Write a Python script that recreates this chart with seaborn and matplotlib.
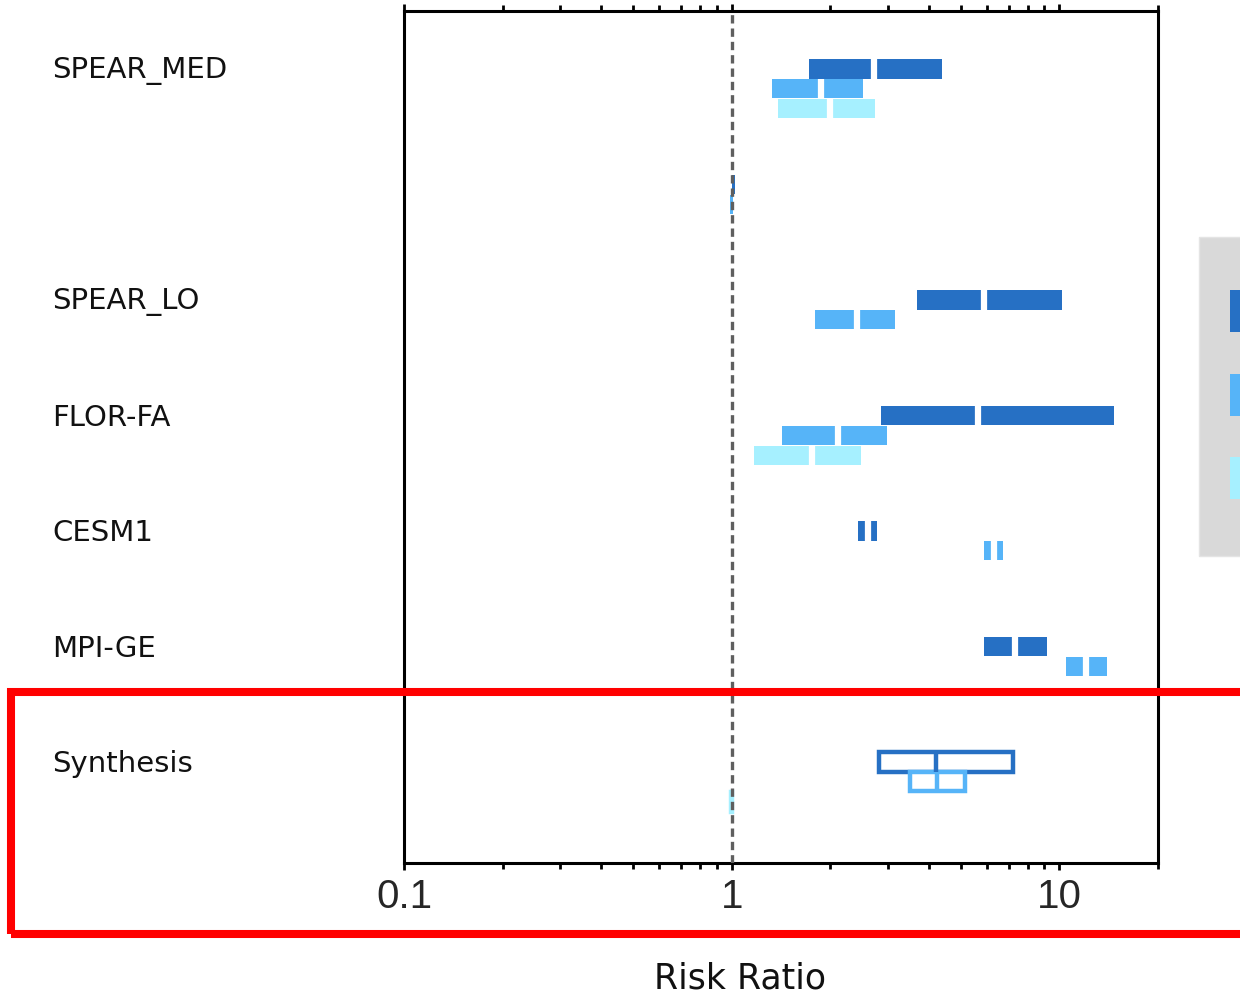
import numpy as np
import matplotlib
matplotlib.use("Agg")
import matplotlib.pyplot as plt
import matplotlib.transforms as mtransforms
from matplotlib.patches import Rectangle, Patch
import seaborn as sns

# ---------------- data ----------------
rows = ["SPEAR_MED", "", "SPEAR_LO", "FLOR-FA", "CESM1", "MPI-GE", "Synthesis"]
nan = np.nan

dark_lo = [1.72, 1.003, 3.68, 2.86, 2.43, 5.90, 2.82]
dark_mid = [2.72, nan, 5.90, 5.65, 2.61, 7.34, 4.21]
dark_hi = [4.39, 1.025, 10.2, 14.7, 2.78, 9.19, 7.23]

med_lo = [1.33, 0.985, 1.79, 1.42, 5.90, 10.5, 3.50]
med_mid = [1.87, nan, 2.41, 2.11, 6.33, 12.1, 4.24]
med_hi = [2.52, 1.007, 3.15, 2.98, 6.74, 14.0, 5.16]

light_lo = [1.38, nan, nan, 1.17, nan, nan, 0.996]
light_mid = [1.99, nan, nan, 1.76, nan, nan, nan]
light_hi = [2.74, nan, nan, 2.48, nan, nan, 1.004]

outlined = [False, False, False, False, False, False, True]

xticks = [0.1, 1, 10]
xticklabels = ["0.1", "1", "10"]

# ---------------- style ----------------
sns.set_theme(style="white")
plt.rcParams["font.family"] = ["DejaVu Sans"]

colors = ["#2670C4", "#56B4F8", "#A6F0FF"]
offsets = [0.0, 0.172, 0.346]
bar_h = 0.167

fig = plt.figure(figsize=(12.4, 9.96), dpi=100)
ax = fig.add_axes([404 / 1240, 1 - 863 / 996, (1158 - 404) / 1240, (863 - 11) / 996])

levels = [
    (dark_lo, dark_mid, dark_hi),
    (med_lo, med_mid, med_hi),
    (light_lo, light_mid, light_hi),
]

for k, (lo_arr, mid_arr, hi_arr) in enumerate(levels):
    c = colors[k]
    for i in range(len(rows)):
        lo, mid, hi = lo_arr[i], mid_arr[i], hi_arr[i]
        if np.isnan(lo):
            continue
        y = i + offsets[k]
        if outlined[i]:
            ax.barh(y, hi - lo, left=lo, height=bar_h, facecolor="white",
                    edgecolor=c, linewidth=3.2, zorder=3)
            if not np.isnan(mid):
                ax.vlines(mid, y - bar_h / 2, y + bar_h / 2, color=c, lw=3.2, zorder=4)
        else:
            ax.barh(y, hi - lo, left=lo, height=bar_h, color=c, linewidth=0, zorder=3)
            if not np.isnan(mid):
                ax.vlines(mid, y - bar_h / 2, y + bar_h / 2, color="white", lw=4.5, zorder=4)

ax.axvline(1, color="#5f5f5f", lw=2.4, ls=(0, (2.5, 1.5)), zorder=5)

ax.set_xscale("log")
ax.set_xlim(0.1, 20)
ax.set_ylim(6.875, -0.501)
ax.set_yticks([])
ax.set_xticks(xticks)
ax.set_xticklabels(xticklabels, fontfamily="Liberation Sans", fontsize=29)
ax.xaxis.set_minor_locator(matplotlib.ticker.LogLocator(base=10, subs=np.arange(2, 10)))
ax.xaxis.set_minor_formatter(matplotlib.ticker.NullFormatter())
ax.tick_params(axis="x", which="both", direction="out", top=True, bottom=True,
               labeltop=False, length=4, width=2, color="black", pad=6)
ax.tick_params(axis="x", which="major", length=5)

for s in ax.spines.values():
    s.set_visible(True)
    s.set_color("black")
    s.set_linewidth(2.2)

trans = mtransforms.blended_transform_factory(ax.transAxes, ax.transData)
for i, name in enumerate(rows):
    if name:
        ax.text((52 - 404) / 754, i + 0.02, name, transform=trans, ha="left",
                va="center", fontsize=21, color="#111111")

ax.set_xlabel("Risk Ratio", fontsize=25, color="#111111")
ax.xaxis.set_label_coords((740 - 404) / 754, (863 - 978) / 852)
ax.xaxis.label.set_va("center")

# legend (cut off at right edge)
fig.add_artist(Rectangle((1199 / 1240, 1 - 556 / 996), 0.2, (556 - 237) / 996,
                         transform=fig.transFigure, facecolor="#D9D9D9",
                         edgecolor="#E4E4E4", lw=1, zorder=1))
handles = [Patch(facecolor=c, edgecolor="none") for c in colors]
fig.legend(handles, ["", "", ""], loc="upper left",
           bbox_to_anchor=(1230 / 1240, 1 - 290 / 996), frameon=False,
           borderpad=0, borderaxespad=0, fontsize=20, handleheight=1.95,
           handlelength=3, labelspacing=1.5)

# red highlight box
fig.add_artist(Rectangle((11 / 1240, 1 - 934 / 996), 1.2, (934 - 692) / 996,
                         transform=fig.transFigure, facecolor="none",
                         edgecolor="#FF0000", lw=5.8, zorder=20))

fig.savefig("out.png", dpi=100)
